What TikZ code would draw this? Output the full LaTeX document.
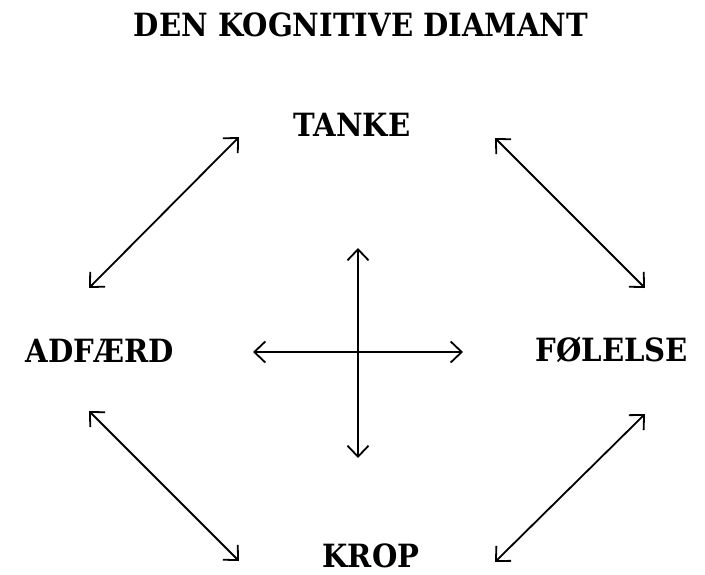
\documentclass[tikz,border=0pt]{standalone}
\usepackage{fontspec}
\setmainfont{DejaVu Serif}[FakeStretch=0.91]
\usetikzlibrary{arrows.meta}
\tikzset{
  lbl/.style={inner sep=0pt, font=\bfseries\fontsize{32}{36}\selectfont},
  dbl/.style={{Straight Barb[length=11pt,width=21pt]}-{Straight Barb[length=11pt,width=21pt]}, line width=1.8pt, black}
}
\begin{document}
\begin{tikzpicture}[x=1pt,y=-1pt]
\useasboundingbox (0,0) rectangle (705,574);
\node[lbl] (title) at (361,25) {DEN KOGNITIVE DIAMANT};
\node[lbl] (tanke) at (352,125) {TANKE};
\node[lbl] (adfaerd) at (100,351) {ADFÆRD};
\node[lbl] (folelse) at (612,350) {FØLELSE};
\node[lbl] (krop) at (371,556) {KROP};
% diagonal ends
\coordinate (tl1) at (89,288);
\coordinate (tl2) at (239,137);
\coordinate (tr1) at (495,138);
\coordinate (tr2) at (645,288);
\coordinate (bl1) at (89,411);
\coordinate (bl2) at (239,561);
\coordinate (br1) at (495,562);
\coordinate (br2) at (645,414);
% cross ends
\coordinate (ctop) at (358,248);
\coordinate (cbot) at (358,458);
\coordinate (cleft) at (253,352);
\coordinate (cright) at (463,352);
\draw[dbl] (tl1) -- (tl2);
\draw[dbl] (tr1) -- (tr2);
\draw[dbl] (bl1) -- (bl2);
\draw[dbl] (br1) -- (br2);
\draw[dbl] (ctop) -- (cbot);
\draw[dbl] (cleft) -- (cright);
\end{tikzpicture}
\end{document}
